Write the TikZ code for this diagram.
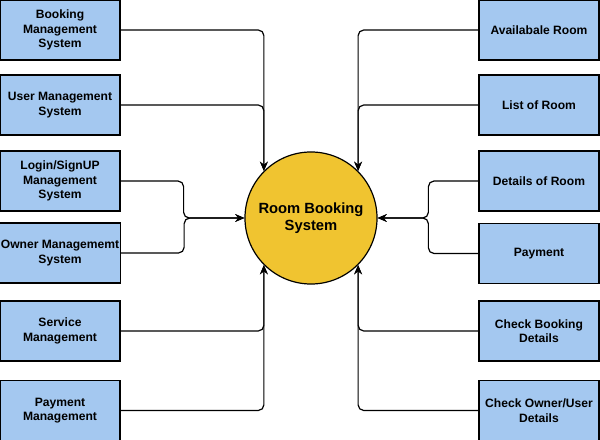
\documentclass[tikz,border=0pt]{standalone}
\usepackage{fontspec}
\setmainfont{Liberation Sans}
\usepackage{tikz}
\usetikzlibrary{arrows.meta, positioning, calc}
\usepackage{xcolor}
\definecolor{boxblue}{RGB}{164,200,240}
\definecolor{hubyellow}{RGB}{240,196,48}

\begin{document}
\begin{tikzpicture}[x=0.025cm, y=-0.025cm, >={Stealth[length=6.5pt, width=5.5pt]},
  every node/.style={font=\bfseries\fontsize{8.6}{10.3}\selectfont, align=center},
  sub/.style={draw, line width=0.85pt, fill=boxblue, minimum width=3cm, minimum height=1.5cm, inner sep=1pt},
  flow/.style={->, line width=0.85pt, rounded corners=4pt}]
\useasboundingbox (0,0) rectangle (600,440);
% centre process
\node[draw, circle, line width=0.85pt, fill=hubyellow, minimum size=3.3cm, inner sep=0pt,
  font=\bfseries\fontsize{10.5}{12.5}\selectfont] (room) at (311,218) {Room Booking\\System};
% left side
\node[sub] (bms) at (60,30) {Booking\\Management\\System};
\node[sub] (ums) at (60,105) {User Management\\System};
\node[sub] (login) at (60,181) {Login/SignUP\\Management\\System};
\node[sub] (owner) at (60,253) {Owner Managememt\\System};
\node[sub] (service) at (60,331) {Service\\Management};
\node[sub] (paym) at (60,410.5) {Payment\\Management};
% right side
\node[sub] (avail) at (539,30) {Availabale Room};
\node[sub] (list) at (539,105) {List of Room};
\node[sub] (details) at (539,181) {Details of Room};
\node[sub] (pay) at (539,253.5) {Payment};
\node[sub] (check) at (539,331) {Check Booking\\Details};
\node[sub] (checkou) at (539,410.5) {Check Owner/User\\Details};
% flows into the system
\draw[flow] (bms.east) -| (room.135);
\draw[flow] (ums.east) -| (room.135);
\draw[flow] (login.east) -- ++(63,0) |- (room.west);
\draw[flow] (owner.east) -- ++(63,0) |- (room.west);
\draw[flow] (service.east) -| (room.225);
\draw[flow] (paym.east) -| (room.225);
\draw[flow] (avail.west) -| (room.45);
\draw[flow] (list.west) -| (room.45);
\draw[flow] (details.west) -- ++(-50,0) |- (room.east);
\draw[flow] (pay.west) -- ++(-50,0) |- (room.east);
\draw[flow] (check.west) -| (room.315);
\draw[flow] (checkou.west) -| (room.315);
\end{tikzpicture}
\end{document}
